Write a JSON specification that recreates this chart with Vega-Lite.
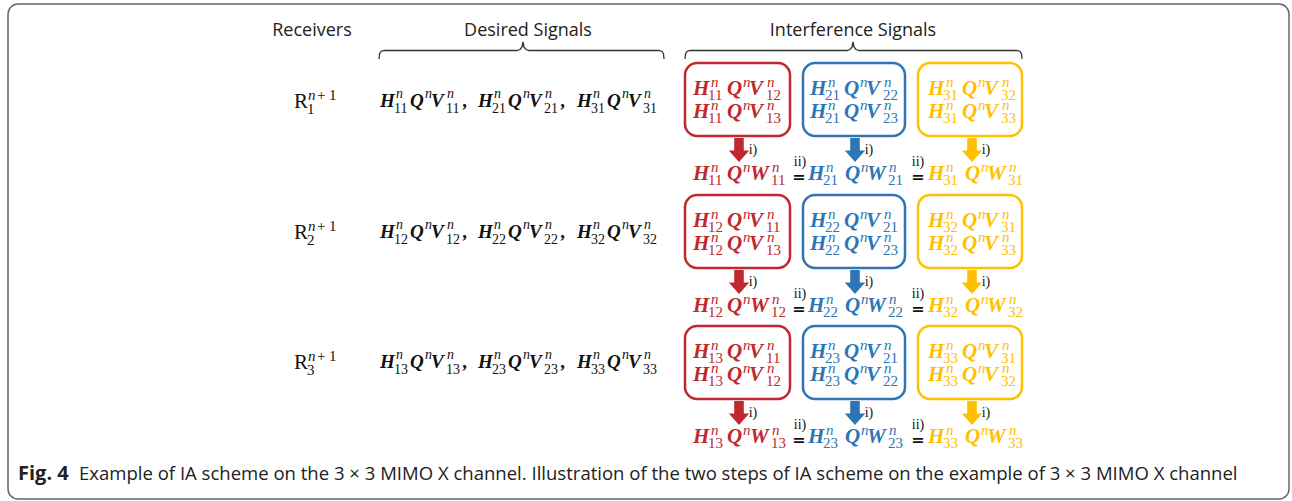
{
  "$schema": "https://vega.github.io/schema/vega-lite/v6.json",
  "width": 1292,
  "height": 501,
  "padding": 0,
  "autosize": {"type": "none"},
  "background": "white",
  "config": {"view": {"stroke": null}},
  "datasets": {
    "frame": [{"x": 8, "x2": 1289, "y": 4, "y2": 499}],
    "boxes": [
      {"x": 685, "x2": 790, "y": 63, "y2": 136, "g": "r"},
      {"x": 803, "x2": 905, "y": 63, "y2": 136, "g": "b"},
      {"x": 918, "x2": 1022, "y": 63, "y2": 136, "g": "y"},
      {"x": 685, "x2": 790, "y": 195, "y2": 268, "g": "r"},
      {"x": 803, "x2": 905, "y": 195, "y2": 268, "g": "b"},
      {"x": 918, "x2": 1022, "y": 195, "y2": 268, "g": "y"},
      {"x": 685, "x2": 790, "y": 326, "y2": 399, "g": "r"},
      {"x": 803, "x2": 905, "y": 326, "y2": 399, "g": "b"},
      {"x": 918, "x2": 1022, "y": 326, "y2": 399, "g": "y"}
    ],
    "braces": [
      {"b": "d", "o": 1, "x": 379, "y": 59}, {"b": "d", "o": 2, "x": 379.5, "y": 54}, {"b": "d", "o": 3, "x": 381, "y": 51.5}, {"b": "d", "o": 4, "x": 384, "y": 50.5},
      {"b": "d", "o": 5, "x": 517, "y": 50.5}, {"b": "d", "o": 6, "x": 520, "y": 49.5}, {"b": "d", "o": 7, "x": 522, "y": 47}, {"b": "d", "o": 8, "x": 523, "y": 42},
      {"b": "d", "o": 9, "x": 524, "y": 47}, {"b": "d", "o": 10, "x": 526, "y": 49.5}, {"b": "d", "o": 11, "x": 529, "y": 50.5}, {"b": "d", "o": 12, "x": 659, "y": 50.5},
      {"b": "d", "o": 13, "x": 662, "y": 51.5}, {"b": "d", "o": 14, "x": 663.5, "y": 54}, {"b": "d", "o": 15, "x": 664, "y": 59},
      {"b": "i", "o": 1, "x": 685, "y": 59}, {"b": "i", "o": 2, "x": 685.5, "y": 54}, {"b": "i", "o": 3, "x": 687, "y": 51.5}, {"b": "i", "o": 4, "x": 690, "y": 50.5},
      {"b": "i", "o": 5, "x": 847, "y": 50.5}, {"b": "i", "o": 6, "x": 850, "y": 49.5}, {"b": "i", "o": 7, "x": 852, "y": 47}, {"b": "i", "o": 8, "x": 853, "y": 42},
      {"b": "i", "o": 9, "x": 854, "y": 47}, {"b": "i", "o": 10, "x": 856, "y": 49.5}, {"b": "i", "o": 11, "x": 859, "y": 50.5}, {"b": "i", "o": 12, "x": 1017, "y": 50.5},
      {"b": "i", "o": 13, "x": 1020, "y": 51.5}, {"b": "i", "o": 14, "x": 1021.5, "y": 54}, {"b": "i", "o": 15, "x": 1022, "y": 59}
    ],
    "arrows": [
      {"x": 739, "y": 150, "g": "r"}, {"x": 855, "y": 150, "g": "b"}, {"x": 972, "y": 150, "g": "y"},
      {"x": 739, "y": 282, "g": "r"}, {"x": 855, "y": 282, "g": "b"}, {"x": 972, "y": 282, "g": "y"},
      {"x": 739, "y": 413, "g": "r"}, {"x": 855, "y": 413, "g": "b"}, {"x": 972, "y": 413, "g": "y"}
    ],
    "labs": [
      {"x": 753, "y": 150, "t": "i)", "k": "i"}, {"x": 869, "y": 150, "t": "i)", "k": "i"}, {"x": 986, "y": 150, "t": "i)", "k": "i"},
      {"x": 753, "y": 282, "t": "i)", "k": "i"}, {"x": 869, "y": 282, "t": "i)", "k": "i"}, {"x": 986, "y": 282, "t": "i)", "k": "i"},
      {"x": 753, "y": 413, "t": "i)", "k": "i"}, {"x": 869, "y": 413, "t": "i)", "k": "i"}, {"x": 986, "y": 413, "t": "i)", "k": "i"},
      {"x": 800, "y": 162, "t": "ii)", "k": "i"}, {"x": 918, "y": 162, "t": "ii)", "k": "i"},
      {"x": 800, "y": 294, "t": "ii)", "k": "i"}, {"x": 918, "y": 294, "t": "ii)", "k": "i"},
      {"x": 800, "y": 425, "t": "ii)", "k": "i"}, {"x": 918, "y": 425, "t": "ii)", "k": "i"},
      {"x": 799, "y": 177, "t": "=", "k": "e"}, {"x": 918, "y": 177, "t": "=", "k": "e"},
      {"x": 799, "y": 309, "t": "=", "k": "e"}, {"x": 918, "y": 309, "t": "=", "k": "e"},
      {"x": 799, "y": 440, "t": "=", "k": "e"}, {"x": 918, "y": 440, "t": "=", "k": "e"}
    ],
    "hdr": [
      {"x": 312, "y": 36, "t": "Receivers"},
      {"x": 528, "y": 36, "t": "Desired Signals"},
      {"x": 853, "y": 36, "t": "Interference Signals"}
    ],
    "cap": [
      {"x": 18, "y": 480, "t": "Fig. 4", "k": "cb"},
      {"x": 79, "y": 480, "t": "Example of IA scheme on the 3 × 3 MIMO X channel. Illustration of the two steps of IA scheme on the example of 3 × 3 MIMO X channel", "k": "cr"}
    ],
    "frags": [
      {"x": 294, "y": 108, "t": "R", "k": "R", "g": "k"}, {"x": 308, "y": 100, "t": "n", "k": "Rn", "g": "k"}, {"x": 317, "y": 100, "t": "+", "k": "Rd", "g": "k"}, {"x": 329, "y": 100, "t": "1", "k": "Rd", "g": "k"}, {"x": 307, "y": 114, "t": "1", "k": "Rd", "g": "k"},
      {"x": 294, "y": 239, "t": "R", "k": "R", "g": "k"}, {"x": 308, "y": 231, "t": "n", "k": "Rn", "g": "k"}, {"x": 317, "y": 231, "t": "+", "k": "Rd", "g": "k"}, {"x": 329, "y": 231, "t": "1", "k": "Rd", "g": "k"}, {"x": 307, "y": 245, "t": "2", "k": "Rd", "g": "k"},
      {"x": 294, "y": 369, "t": "R", "k": "R", "g": "k"}, {"x": 308, "y": 361, "t": "n", "k": "Rn", "g": "k"}, {"x": 317, "y": 361, "t": "+", "k": "Rd", "g": "k"}, {"x": 329, "y": 361, "t": "1", "k": "Rd", "g": "k"}, {"x": 307, "y": 375, "t": "3", "k": "Rd", "g": "k"},

      {"x": 380, "y": 107, "t": "H", "k": "B", "g": "k"}, {"x": 396, "y": 98, "t": "n", "k": "N", "g": "k"}, {"x": 394, "y": 113, "t": "11", "k": "D", "g": "k"}, {"x": 410, "y": 107, "t": "Q", "k": "B", "g": "k"}, {"x": 425, "y": 98, "t": "n", "k": "N", "g": "k"}, {"x": 431, "y": 107, "t": "V", "k": "B", "g": "k"}, {"x": 447, "y": 98, "t": "n", "k": "N", "g": "k"}, {"x": 446, "y": 113, "t": "11", "k": "D", "g": "k"}, {"x": 463, "y": 107, "t": ",", "k": "B", "g": "k"},
      {"x": 478, "y": 107, "t": "H", "k": "B", "g": "k"}, {"x": 494, "y": 98, "t": "n", "k": "N", "g": "k"}, {"x": 492, "y": 113, "t": "21", "k": "D", "g": "k"}, {"x": 508, "y": 107, "t": "Q", "k": "B", "g": "k"}, {"x": 523, "y": 98, "t": "n", "k": "N", "g": "k"}, {"x": 529, "y": 107, "t": "V", "k": "B", "g": "k"}, {"x": 545, "y": 98, "t": "n", "k": "N", "g": "k"}, {"x": 544, "y": 113, "t": "21", "k": "D", "g": "k"}, {"x": 561, "y": 107, "t": ",", "k": "B", "g": "k"},
      {"x": 577, "y": 107, "t": "H", "k": "B", "g": "k"}, {"x": 593, "y": 98, "t": "n", "k": "N", "g": "k"}, {"x": 591, "y": 113, "t": "31", "k": "D", "g": "k"}, {"x": 607, "y": 107, "t": "Q", "k": "B", "g": "k"}, {"x": 622, "y": 98, "t": "n", "k": "N", "g": "k"}, {"x": 628, "y": 107, "t": "V", "k": "B", "g": "k"}, {"x": 644, "y": 98, "t": "n", "k": "N", "g": "k"}, {"x": 643, "y": 113, "t": "31", "k": "D", "g": "k"},

      {"x": 380, "y": 238, "t": "H", "k": "B", "g": "k"}, {"x": 396, "y": 229, "t": "n", "k": "N", "g": "k"}, {"x": 394, "y": 244, "t": "12", "k": "D", "g": "k"}, {"x": 410, "y": 238, "t": "Q", "k": "B", "g": "k"}, {"x": 425, "y": 229, "t": "n", "k": "N", "g": "k"}, {"x": 431, "y": 238, "t": "V", "k": "B", "g": "k"}, {"x": 447, "y": 229, "t": "n", "k": "N", "g": "k"}, {"x": 446, "y": 244, "t": "12", "k": "D", "g": "k"}, {"x": 463, "y": 238, "t": ",", "k": "B", "g": "k"},
      {"x": 478, "y": 238, "t": "H", "k": "B", "g": "k"}, {"x": 494, "y": 229, "t": "n", "k": "N", "g": "k"}, {"x": 492, "y": 244, "t": "22", "k": "D", "g": "k"}, {"x": 508, "y": 238, "t": "Q", "k": "B", "g": "k"}, {"x": 523, "y": 229, "t": "n", "k": "N", "g": "k"}, {"x": 529, "y": 238, "t": "V", "k": "B", "g": "k"}, {"x": 545, "y": 229, "t": "n", "k": "N", "g": "k"}, {"x": 544, "y": 244, "t": "22", "k": "D", "g": "k"}, {"x": 561, "y": 238, "t": ",", "k": "B", "g": "k"},
      {"x": 577, "y": 238, "t": "H", "k": "B", "g": "k"}, {"x": 593, "y": 229, "t": "n", "k": "N", "g": "k"}, {"x": 591, "y": 244, "t": "32", "k": "D", "g": "k"}, {"x": 607, "y": 238, "t": "Q", "k": "B", "g": "k"}, {"x": 622, "y": 229, "t": "n", "k": "N", "g": "k"}, {"x": 628, "y": 238, "t": "V", "k": "B", "g": "k"}, {"x": 644, "y": 229, "t": "n", "k": "N", "g": "k"}, {"x": 643, "y": 244, "t": "32", "k": "D", "g": "k"},

      {"x": 380, "y": 368, "t": "H", "k": "B", "g": "k"}, {"x": 396, "y": 359, "t": "n", "k": "N", "g": "k"}, {"x": 394, "y": 374, "t": "13", "k": "D", "g": "k"}, {"x": 410, "y": 368, "t": "Q", "k": "B", "g": "k"}, {"x": 425, "y": 359, "t": "n", "k": "N", "g": "k"}, {"x": 431, "y": 368, "t": "V", "k": "B", "g": "k"}, {"x": 447, "y": 359, "t": "n", "k": "N", "g": "k"}, {"x": 446, "y": 374, "t": "13", "k": "D", "g": "k"}, {"x": 463, "y": 368, "t": ",", "k": "B", "g": "k"},
      {"x": 478, "y": 368, "t": "H", "k": "B", "g": "k"}, {"x": 494, "y": 359, "t": "n", "k": "N", "g": "k"}, {"x": 492, "y": 374, "t": "23", "k": "D", "g": "k"}, {"x": 508, "y": 368, "t": "Q", "k": "B", "g": "k"}, {"x": 523, "y": 359, "t": "n", "k": "N", "g": "k"}, {"x": 529, "y": 368, "t": "V", "k": "B", "g": "k"}, {"x": 545, "y": 359, "t": "n", "k": "N", "g": "k"}, {"x": 544, "y": 374, "t": "23", "k": "D", "g": "k"}, {"x": 561, "y": 368, "t": ",", "k": "B", "g": "k"},
      {"x": 577, "y": 368, "t": "H", "k": "B", "g": "k"}, {"x": 593, "y": 359, "t": "n", "k": "N", "g": "k"}, {"x": 591, "y": 374, "t": "33", "k": "D", "g": "k"}, {"x": 607, "y": 368, "t": "Q", "k": "B", "g": "k"}, {"x": 622, "y": 359, "t": "n", "k": "N", "g": "k"}, {"x": 628, "y": 368, "t": "V", "k": "B", "g": "k"}, {"x": 644, "y": 359, "t": "n", "k": "N", "g": "k"}, {"x": 643, "y": 374, "t": "33", "k": "D", "g": "k"},

      {"x": 693, "y": 95, "t": "H", "k": "b", "g": "r"}, {"x": 711, "y": 87, "t": "n", "k": "n", "g": "r"}, {"x": 708, "y": 100, "t": "11", "k": "d", "g": "r"}, {"x": 727, "y": 95, "t": "Q", "k": "b", "g": "r"}, {"x": 743, "y": 87, "t": "n", "k": "n", "g": "r"}, {"x": 749, "y": 95, "t": "V", "k": "b", "g": "r"}, {"x": 767, "y": 87, "t": "n", "k": "n", "g": "r"}, {"x": 766, "y": 100, "t": "12", "k": "d", "g": "r"},
      {"x": 693, "y": 118, "t": "H", "k": "b", "g": "r"}, {"x": 711, "y": 110, "t": "n", "k": "n", "g": "r"}, {"x": 708, "y": 123, "t": "11", "k": "d", "g": "r"}, {"x": 727, "y": 118, "t": "Q", "k": "b", "g": "r"}, {"x": 743, "y": 110, "t": "n", "k": "n", "g": "r"}, {"x": 749, "y": 118, "t": "V", "k": "b", "g": "r"}, {"x": 767, "y": 110, "t": "n", "k": "n", "g": "r"}, {"x": 766, "y": 123, "t": "13", "k": "d", "g": "r"},
      {"x": 810, "y": 95, "t": "H", "k": "b", "g": "b"}, {"x": 828, "y": 87, "t": "n", "k": "n", "g": "b"}, {"x": 825, "y": 100, "t": "21", "k": "d", "g": "b"}, {"x": 844, "y": 95, "t": "Q", "k": "b", "g": "b"}, {"x": 860, "y": 87, "t": "n", "k": "n", "g": "b"}, {"x": 866, "y": 95, "t": "V", "k": "b", "g": "b"}, {"x": 884, "y": 87, "t": "n", "k": "n", "g": "b"}, {"x": 883, "y": 100, "t": "22", "k": "d", "g": "b"},
      {"x": 810, "y": 118, "t": "H", "k": "b", "g": "b"}, {"x": 828, "y": 110, "t": "n", "k": "n", "g": "b"}, {"x": 825, "y": 123, "t": "21", "k": "d", "g": "b"}, {"x": 844, "y": 118, "t": "Q", "k": "b", "g": "b"}, {"x": 860, "y": 110, "t": "n", "k": "n", "g": "b"}, {"x": 866, "y": 118, "t": "V", "k": "b", "g": "b"}, {"x": 884, "y": 110, "t": "n", "k": "n", "g": "b"}, {"x": 883, "y": 123, "t": "23", "k": "d", "g": "b"},
      {"x": 928, "y": 95, "t": "H", "k": "b", "g": "y"}, {"x": 946, "y": 87, "t": "n", "k": "n", "g": "y"}, {"x": 943, "y": 100, "t": "31", "k": "d", "g": "y"}, {"x": 962, "y": 95, "t": "Q", "k": "b", "g": "y"}, {"x": 978, "y": 87, "t": "n", "k": "n", "g": "y"}, {"x": 984, "y": 95, "t": "V", "k": "b", "g": "y"}, {"x": 1002, "y": 87, "t": "n", "k": "n", "g": "y"}, {"x": 1001, "y": 100, "t": "32", "k": "d", "g": "y"},
      {"x": 928, "y": 118, "t": "H", "k": "b", "g": "y"}, {"x": 946, "y": 110, "t": "n", "k": "n", "g": "y"}, {"x": 943, "y": 123, "t": "31", "k": "d", "g": "y"}, {"x": 962, "y": 118, "t": "Q", "k": "b", "g": "y"}, {"x": 978, "y": 110, "t": "n", "k": "n", "g": "y"}, {"x": 984, "y": 118, "t": "V", "k": "b", "g": "y"}, {"x": 1002, "y": 110, "t": "n", "k": "n", "g": "y"}, {"x": 1001, "y": 123, "t": "33", "k": "d", "g": "y"},
      {"x": 693, "y": 180, "t": "H", "k": "b", "g": "r"}, {"x": 711, "y": 172, "t": "n", "k": "n", "g": "r"}, {"x": 708, "y": 185, "t": "11", "k": "d", "g": "r"}, {"x": 727, "y": 180, "t": "Q", "k": "b", "g": "r"}, {"x": 743, "y": 172, "t": "n", "k": "n", "g": "r"}, {"x": 750, "y": 180, "t": "W", "k": "b", "g": "r"}, {"x": 772, "y": 172, "t": "n", "k": "n", "g": "r"}, {"x": 771, "y": 185, "t": "11", "k": "d", "g": "r"},
      {"x": 808, "y": 180, "t": "H", "k": "b", "g": "b"}, {"x": 826, "y": 172, "t": "n", "k": "n", "g": "b"}, {"x": 823, "y": 185, "t": "21", "k": "d", "g": "b"}, {"x": 845, "y": 180, "t": "Q", "k": "b", "g": "b"}, {"x": 861, "y": 172, "t": "n", "k": "n", "g": "b"}, {"x": 867, "y": 180, "t": "W", "k": "b", "g": "b"}, {"x": 889, "y": 172, "t": "n", "k": "n", "g": "b"}, {"x": 888, "y": 185, "t": "21", "k": "d", "g": "b"},
      {"x": 928, "y": 180, "t": "H", "k": "b", "g": "y"}, {"x": 946, "y": 172, "t": "n", "k": "n", "g": "y"}, {"x": 943, "y": 185, "t": "31", "k": "d", "g": "y"}, {"x": 965, "y": 180, "t": "Q", "k": "b", "g": "y"}, {"x": 981, "y": 172, "t": "n", "k": "n", "g": "y"}, {"x": 987, "y": 180, "t": "W", "k": "b", "g": "y"}, {"x": 1009, "y": 172, "t": "n", "k": "n", "g": "y"}, {"x": 1008, "y": 185, "t": "31", "k": "d", "g": "y"},

      {"x": 693, "y": 227, "t": "H", "k": "b", "g": "r"}, {"x": 711, "y": 219, "t": "n", "k": "n", "g": "r"}, {"x": 708, "y": 232, "t": "12", "k": "d", "g": "r"}, {"x": 727, "y": 227, "t": "Q", "k": "b", "g": "r"}, {"x": 743, "y": 219, "t": "n", "k": "n", "g": "r"}, {"x": 749, "y": 227, "t": "V", "k": "b", "g": "r"}, {"x": 767, "y": 219, "t": "n", "k": "n", "g": "r"}, {"x": 766, "y": 232, "t": "11", "k": "d", "g": "r"},
      {"x": 693, "y": 250, "t": "H", "k": "b", "g": "r"}, {"x": 711, "y": 242, "t": "n", "k": "n", "g": "r"}, {"x": 708, "y": 255, "t": "12", "k": "d", "g": "r"}, {"x": 727, "y": 250, "t": "Q", "k": "b", "g": "r"}, {"x": 743, "y": 242, "t": "n", "k": "n", "g": "r"}, {"x": 749, "y": 250, "t": "V", "k": "b", "g": "r"}, {"x": 767, "y": 242, "t": "n", "k": "n", "g": "r"}, {"x": 766, "y": 255, "t": "13", "k": "d", "g": "r"},
      {"x": 810, "y": 227, "t": "H", "k": "b", "g": "b"}, {"x": 828, "y": 219, "t": "n", "k": "n", "g": "b"}, {"x": 825, "y": 232, "t": "22", "k": "d", "g": "b"}, {"x": 844, "y": 227, "t": "Q", "k": "b", "g": "b"}, {"x": 860, "y": 219, "t": "n", "k": "n", "g": "b"}, {"x": 866, "y": 227, "t": "V", "k": "b", "g": "b"}, {"x": 884, "y": 219, "t": "n", "k": "n", "g": "b"}, {"x": 883, "y": 232, "t": "21", "k": "d", "g": "b"},
      {"x": 810, "y": 250, "t": "H", "k": "b", "g": "b"}, {"x": 828, "y": 242, "t": "n", "k": "n", "g": "b"}, {"x": 825, "y": 255, "t": "22", "k": "d", "g": "b"}, {"x": 844, "y": 250, "t": "Q", "k": "b", "g": "b"}, {"x": 860, "y": 242, "t": "n", "k": "n", "g": "b"}, {"x": 866, "y": 250, "t": "V", "k": "b", "g": "b"}, {"x": 884, "y": 242, "t": "n", "k": "n", "g": "b"}, {"x": 883, "y": 255, "t": "23", "k": "d", "g": "b"},
      {"x": 928, "y": 227, "t": "H", "k": "b", "g": "y"}, {"x": 946, "y": 219, "t": "n", "k": "n", "g": "y"}, {"x": 943, "y": 232, "t": "32", "k": "d", "g": "y"}, {"x": 962, "y": 227, "t": "Q", "k": "b", "g": "y"}, {"x": 978, "y": 219, "t": "n", "k": "n", "g": "y"}, {"x": 984, "y": 227, "t": "V", "k": "b", "g": "y"}, {"x": 1002, "y": 219, "t": "n", "k": "n", "g": "y"}, {"x": 1001, "y": 232, "t": "31", "k": "d", "g": "y"},
      {"x": 928, "y": 250, "t": "H", "k": "b", "g": "y"}, {"x": 946, "y": 242, "t": "n", "k": "n", "g": "y"}, {"x": 943, "y": 255, "t": "32", "k": "d", "g": "y"}, {"x": 962, "y": 250, "t": "Q", "k": "b", "g": "y"}, {"x": 978, "y": 242, "t": "n", "k": "n", "g": "y"}, {"x": 984, "y": 250, "t": "V", "k": "b", "g": "y"}, {"x": 1002, "y": 242, "t": "n", "k": "n", "g": "y"}, {"x": 1001, "y": 255, "t": "33", "k": "d", "g": "y"},
      {"x": 693, "y": 312, "t": "H", "k": "b", "g": "r"}, {"x": 711, "y": 304, "t": "n", "k": "n", "g": "r"}, {"x": 708, "y": 317, "t": "12", "k": "d", "g": "r"}, {"x": 727, "y": 312, "t": "Q", "k": "b", "g": "r"}, {"x": 743, "y": 304, "t": "n", "k": "n", "g": "r"}, {"x": 750, "y": 312, "t": "W", "k": "b", "g": "r"}, {"x": 772, "y": 304, "t": "n", "k": "n", "g": "r"}, {"x": 771, "y": 317, "t": "12", "k": "d", "g": "r"},
      {"x": 808, "y": 312, "t": "H", "k": "b", "g": "b"}, {"x": 826, "y": 304, "t": "n", "k": "n", "g": "b"}, {"x": 823, "y": 317, "t": "22", "k": "d", "g": "b"}, {"x": 845, "y": 312, "t": "Q", "k": "b", "g": "b"}, {"x": 861, "y": 304, "t": "n", "k": "n", "g": "b"}, {"x": 867, "y": 312, "t": "W", "k": "b", "g": "b"}, {"x": 889, "y": 304, "t": "n", "k": "n", "g": "b"}, {"x": 888, "y": 317, "t": "22", "k": "d", "g": "b"},
      {"x": 928, "y": 312, "t": "H", "k": "b", "g": "y"}, {"x": 946, "y": 304, "t": "n", "k": "n", "g": "y"}, {"x": 943, "y": 317, "t": "32", "k": "d", "g": "y"}, {"x": 965, "y": 312, "t": "Q", "k": "b", "g": "y"}, {"x": 981, "y": 304, "t": "n", "k": "n", "g": "y"}, {"x": 987, "y": 312, "t": "W", "k": "b", "g": "y"}, {"x": 1009, "y": 304, "t": "n", "k": "n", "g": "y"}, {"x": 1008, "y": 317, "t": "32", "k": "d", "g": "y"},

      {"x": 693, "y": 358, "t": "H", "k": "b", "g": "r"}, {"x": 711, "y": 350, "t": "n", "k": "n", "g": "r"}, {"x": 708, "y": 363, "t": "13", "k": "d", "g": "r"}, {"x": 727, "y": 358, "t": "Q", "k": "b", "g": "r"}, {"x": 743, "y": 350, "t": "n", "k": "n", "g": "r"}, {"x": 749, "y": 358, "t": "V", "k": "b", "g": "r"}, {"x": 767, "y": 350, "t": "n", "k": "n", "g": "r"}, {"x": 766, "y": 363, "t": "11", "k": "d", "g": "r"},
      {"x": 693, "y": 381, "t": "H", "k": "b", "g": "r"}, {"x": 711, "y": 373, "t": "n", "k": "n", "g": "r"}, {"x": 708, "y": 386, "t": "13", "k": "d", "g": "r"}, {"x": 727, "y": 381, "t": "Q", "k": "b", "g": "r"}, {"x": 743, "y": 373, "t": "n", "k": "n", "g": "r"}, {"x": 749, "y": 381, "t": "V", "k": "b", "g": "r"}, {"x": 767, "y": 373, "t": "n", "k": "n", "g": "r"}, {"x": 766, "y": 386, "t": "12", "k": "d", "g": "r"},
      {"x": 810, "y": 358, "t": "H", "k": "b", "g": "b"}, {"x": 828, "y": 350, "t": "n", "k": "n", "g": "b"}, {"x": 825, "y": 363, "t": "23", "k": "d", "g": "b"}, {"x": 844, "y": 358, "t": "Q", "k": "b", "g": "b"}, {"x": 860, "y": 350, "t": "n", "k": "n", "g": "b"}, {"x": 866, "y": 358, "t": "V", "k": "b", "g": "b"}, {"x": 884, "y": 350, "t": "n", "k": "n", "g": "b"}, {"x": 883, "y": 363, "t": "21", "k": "d", "g": "b"},
      {"x": 810, "y": 381, "t": "H", "k": "b", "g": "b"}, {"x": 828, "y": 373, "t": "n", "k": "n", "g": "b"}, {"x": 825, "y": 386, "t": "23", "k": "d", "g": "b"}, {"x": 844, "y": 381, "t": "Q", "k": "b", "g": "b"}, {"x": 860, "y": 373, "t": "n", "k": "n", "g": "b"}, {"x": 866, "y": 381, "t": "V", "k": "b", "g": "b"}, {"x": 884, "y": 373, "t": "n", "k": "n", "g": "b"}, {"x": 883, "y": 386, "t": "22", "k": "d", "g": "b"},
      {"x": 928, "y": 358, "t": "H", "k": "b", "g": "y"}, {"x": 946, "y": 350, "t": "n", "k": "n", "g": "y"}, {"x": 943, "y": 363, "t": "33", "k": "d", "g": "y"}, {"x": 962, "y": 358, "t": "Q", "k": "b", "g": "y"}, {"x": 978, "y": 350, "t": "n", "k": "n", "g": "y"}, {"x": 984, "y": 358, "t": "V", "k": "b", "g": "y"}, {"x": 1002, "y": 350, "t": "n", "k": "n", "g": "y"}, {"x": 1001, "y": 363, "t": "31", "k": "d", "g": "y"},
      {"x": 928, "y": 381, "t": "H", "k": "b", "g": "y"}, {"x": 946, "y": 373, "t": "n", "k": "n", "g": "y"}, {"x": 943, "y": 386, "t": "33", "k": "d", "g": "y"}, {"x": 962, "y": 381, "t": "Q", "k": "b", "g": "y"}, {"x": 978, "y": 373, "t": "n", "k": "n", "g": "y"}, {"x": 984, "y": 381, "t": "V", "k": "b", "g": "y"}, {"x": 1002, "y": 373, "t": "n", "k": "n", "g": "y"}, {"x": 1001, "y": 386, "t": "32", "k": "d", "g": "y"},
      {"x": 693, "y": 443, "t": "H", "k": "b", "g": "r"}, {"x": 711, "y": 435, "t": "n", "k": "n", "g": "r"}, {"x": 708, "y": 448, "t": "13", "k": "d", "g": "r"}, {"x": 727, "y": 443, "t": "Q", "k": "b", "g": "r"}, {"x": 743, "y": 435, "t": "n", "k": "n", "g": "r"}, {"x": 750, "y": 443, "t": "W", "k": "b", "g": "r"}, {"x": 772, "y": 435, "t": "n", "k": "n", "g": "r"}, {"x": 771, "y": 448, "t": "13", "k": "d", "g": "r"},
      {"x": 808, "y": 443, "t": "H", "k": "b", "g": "b"}, {"x": 826, "y": 435, "t": "n", "k": "n", "g": "b"}, {"x": 823, "y": 448, "t": "23", "k": "d", "g": "b"}, {"x": 845, "y": 443, "t": "Q", "k": "b", "g": "b"}, {"x": 861, "y": 435, "t": "n", "k": "n", "g": "b"}, {"x": 867, "y": 443, "t": "W", "k": "b", "g": "b"}, {"x": 889, "y": 435, "t": "n", "k": "n", "g": "b"}, {"x": 888, "y": 448, "t": "23", "k": "d", "g": "b"},
      {"x": 928, "y": 443, "t": "H", "k": "b", "g": "y"}, {"x": 946, "y": 435, "t": "n", "k": "n", "g": "y"}, {"x": 943, "y": 448, "t": "33", "k": "d", "g": "y"}, {"x": 965, "y": 443, "t": "Q", "k": "b", "g": "y"}, {"x": 981, "y": 435, "t": "n", "k": "n", "g": "y"}, {"x": 987, "y": 443, "t": "W", "k": "b", "g": "y"}, {"x": 1009, "y": 435, "t": "n", "k": "n", "g": "y"}, {"x": 1008, "y": 448, "t": "33", "k": "d", "g": "y"}
    ]
  },
  "encoding": {
    "x": {"field": "x", "type": "quantitative", "scale": {"domain": [0, 1292], "nice": false, "zero": false}, "axis": null},
    "y": {"field": "y", "type": "quantitative", "scale": {"domain": [0, 501], "nice": false, "zero": false, "reverse": true}, "axis": null}
  },
  "layer": [
    {
      "data": {"name": "frame"},
      "mark": {"type": "rect", "filled": false, "color": "#666666", "strokeWidth": 1.5, "cornerRadius": 10},
      "encoding": {"x2": {"field": "x2"}, "y2": {"field": "y2"}}
    },
    {
      "data": {"name": "boxes"},
      "mark": {"type": "rect", "filled": false, "strokeWidth": 2.5, "cornerRadius": 12},
      "encoding": {
        "x2": {"field": "x2"}, "y2": {"field": "y2"},
        "color": {"field": "g", "type": "nominal", "scale": {"domain": ["r", "b", "y", "k"], "range": ["#c0282d", "#2e75b6", "#ffc000", "#111111"]}, "legend": null}
      }
    },
    {
      "data": {"name": "braces"},
      "mark": {"type": "line", "color": "#333333", "strokeWidth": 1.3},
      "encoding": {"detail": {"field": "b"}, "order": {"field": "o", "type": "quantitative"}}
    },
    {
      "data": {"name": "arrows"},
      "mark": {"type": "point", "shape": "M-0.4,-1L0.4,-1L0.4,0.05L0.85,0.05L0,1L-0.85,0.05L-0.4,0.05Z", "size": 576, "filled": true, "opacity": 1, "strokeWidth": 0},
      "encoding": {
        "color": {"field": "g", "type": "nominal", "scale": {"domain": ["r", "b", "y", "k"], "range": ["#c0282d", "#2e75b6", "#ffc000", "#111111"]}, "legend": null}
      }
    },
    {
      "data": {"name": "hdr"},
      "mark": {"type": "text", "font": "Open Sans", "fontSize": 18, "color": "#222222", "align": "center", "baseline": "alphabetic"},
      "encoding": {"text": {"field": "t"}}
    },
    {
      "data": {"name": "cap"},
      "transform": [{"filter": "datum.k == 'cb'"}],
      "mark": {"type": "text", "font": "Open Sans", "fontWeight": "bold", "fontSize": 20, "color": "#222222", "align": "left", "baseline": "alphabetic"},
      "encoding": {"text": {"field": "t"}}
    },
    {
      "data": {"name": "cap"},
      "transform": [{"filter": "datum.k == 'cr'"}],
      "mark": {"type": "text", "font": "Open Sans", "fontSize": 18.55, "color": "#222222", "align": "left", "baseline": "alphabetic"},
      "encoding": {"text": {"field": "t"}}
    },
    {
      "data": {"name": "labs"},
      "transform": [{"filter": "datum.k == 'i'"}],
      "mark": {"type": "text", "font": "Liberation Serif", "fontSize": 14, "color": "#111111", "align": "center", "baseline": "middle"},
      "encoding": {"text": {"field": "t"}}
    },
    {
      "data": {"name": "labs"},
      "transform": [{"filter": "datum.k == 'e'"}],
      "mark": {"type": "text", "font": "DejaVu Sans", "fontWeight": "bold", "fontSize": 16, "color": "#111111", "align": "center", "baseline": "middle"},
      "encoding": {"text": {"field": "t"}}
    },
    {
      "data": {"name": "frags"},
      "transform": [{"filter": "datum.k == 'R'"}],
      "mark": {"type": "text", "font": "Liberation Serif", "fontSize": 21, "align": "left", "baseline": "alphabetic"},
      "encoding": {"text": {"field": "t"}, "color": {"field": "g", "type": "nominal", "legend": null}}
    },
    {
      "data": {"name": "frags"},
      "transform": [{"filter": "datum.k == 'Rn'"}],
      "mark": {"type": "text", "font": "Liberation Serif", "fontStyle": "italic", "fontSize": 15, "align": "left", "baseline": "alphabetic"},
      "encoding": {"text": {"field": "t"}, "color": {"field": "g", "type": "nominal", "legend": null}}
    },
    {
      "data": {"name": "frags"},
      "transform": [{"filter": "datum.k == 'Rd'"}],
      "mark": {"type": "text", "font": "Liberation Serif", "fontSize": 15, "align": "left", "baseline": "alphabetic"},
      "encoding": {"text": {"field": "t"}, "color": {"field": "g", "type": "nominal", "legend": null}}
    },
    {
      "data": {"name": "frags"},
      "transform": [{"filter": "datum.k == 'B'"}],
      "mark": {"type": "text", "font": "Liberation Serif", "fontStyle": "italic", "fontWeight": "bold", "fontSize": 19, "align": "left", "baseline": "alphabetic"},
      "encoding": {"text": {"field": "t"}, "color": {"field": "g", "type": "nominal", "legend": null}}
    },
    {
      "data": {"name": "frags"},
      "transform": [{"filter": "datum.k == 'N'"}],
      "mark": {"type": "text", "font": "Liberation Serif", "fontStyle": "italic", "fontSize": 14, "align": "left", "baseline": "alphabetic"},
      "encoding": {"text": {"field": "t"}, "color": {"field": "g", "type": "nominal", "legend": null}}
    },
    {
      "data": {"name": "frags"},
      "transform": [{"filter": "datum.k == 'D'"}],
      "mark": {"type": "text", "font": "Liberation Serif", "fontSize": 14, "align": "left", "baseline": "alphabetic"},
      "encoding": {"text": {"field": "t"}, "color": {"field": "g", "type": "nominal", "legend": null}}
    },
    {
      "data": {"name": "frags"},
      "transform": [{"filter": "datum.k == 'b'"}],
      "mark": {"type": "text", "font": "Liberation Serif", "fontStyle": "italic", "fontWeight": "bold", "fontSize": 21, "align": "left", "baseline": "alphabetic"},
      "encoding": {"text": {"field": "t"}, "color": {"field": "g", "type": "nominal", "legend": null}}
    },
    {
      "data": {"name": "frags"},
      "transform": [{"filter": "datum.k == 'n'"}],
      "mark": {"type": "text", "font": "Liberation Serif", "fontStyle": "italic", "fontSize": 15, "align": "left", "baseline": "alphabetic"},
      "encoding": {"text": {"field": "t"}, "color": {"field": "g", "type": "nominal", "legend": null}}
    },
    {
      "data": {"name": "frags"},
      "transform": [{"filter": "datum.k == 'd'"}],
      "mark": {"type": "text", "font": "Liberation Serif", "fontSize": 15, "align": "left", "baseline": "alphabetic"},
      "encoding": {"text": {"field": "t"}, "color": {"field": "g", "type": "nominal", "legend": null}}
    }
  ]
}
